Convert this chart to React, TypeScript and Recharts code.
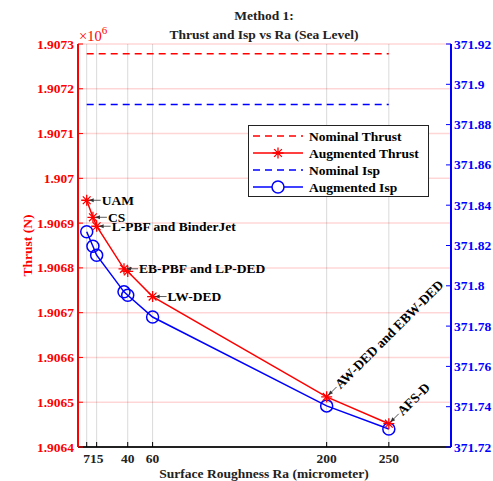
import React from 'react';
import { LineChart, Line, XAxis, YAxis, CartesianGrid, Legend, LabelList } from 'recharts';

const FONT = "'Liberation Serif', 'Times New Roman', serif";
const RED = '#ff0000';
const BLUE = '#0000ff';

// surface roughness Ra (micrometer) per process
const ra = [7, 12, 15, 37, 40, 60, 200, 250];
const processes = ['UAM', 'CS', 'L-PBF and BinderJet', 'EB-PBF and LP-DED', '', 'LW-DED', 'AW-DED and EBW-DED', 'AFS-D'];
const labelAngle = [0, 0, 0, 0, 0, 0, -45, -45];

const augThrust = [1906951, 1906913, 1906893, 1906798, 1906792, 1906736, 1906512, 1906452];
const augIsp = [371.8268, 371.8196, 371.8152, 371.797, 371.7953, 371.7845, 371.7404, 371.7289];
const nominalThrust = 1907278;
const nominalIsp = 371.89;

const xTicks = [7, 15, 40, 60, 200, 250];
const thrustTicks = [1906400, 1906500, 1906600, 1906700, 1906800, 1906900, 1907000, 1907100, 1907200, 1907300];
const ispTicks = [371.72, 371.74, 371.76, 371.78, 371.8, 371.82, 371.84, 371.86, 371.88, 371.9, 371.92];

const data = ra.map((r, i) => ({
  ra: r,
  process: processes[i],
  thrust: augThrust[i],
  isp: augIsp[i],
  nomThrust: nominalThrust,
  nomIsp: nominalIsp,
}));

const starPath = (cx: number, cy: number, r: number) => {
  const d = r * 0.707;
  return `M${cx - r},${cy}H${cx + r}M${cx},${cy - r}V${cy + r}M${cx - d},${cy - d}L${cx + d},${cy + d}M${cx - d},${cy + d}L${cx + d},${cy - d}`;
};

const StarDot = (props: any) => {
  const { cx, cy, index } = props;
  return <path key={`s-${index}`} d={starPath(cx, cy, 5.5)} stroke={RED} strokeWidth={1.3} fill="none" />;
};

const CircleDot = (props: any) => {
  const { cx, cy, index } = props;
  return <circle key={`c-${index}`} cx={cx} cy={cy} r={6} stroke={BLUE} strokeWidth={1.5} fill="none" />;
};

const ProcessLabel = (props: any) => {
  const { index } = props;
  const x = props.viewBox?.x ?? props.x;
  const y = props.viewBox?.y ?? props.y;
  const text = processes[index];
  if (!text) return null;
  return (
    <g transform={`translate(${x},${y}) rotate(${labelAngle[index]})`}>
      <line x1={3} y1={0} x2={14} y2={0} stroke="#333" strokeWidth={0.8} />
      <path d="M2.5,0 L7,-2 L7,2 Z" fill="#333" />
      <text x={15} y={0} dy="0.34em" fontFamily={FONT} fontWeight="bold" fontSize={13.5} fill="#000">
        {text}
      </text>
    </g>
  );
};

const XTick = (props: any) => {
  const { x, y, payload } = props;
  return (
    <g>
      <line x1={x} y1={y} x2={x} y2={y - 5} stroke="#000" strokeWidth={1} />
      <text x={x} y={y + 16} textAnchor="middle" fontFamily={FONT} fontWeight="bold" fontSize={13.5} fill="#222">
        {payload.value}
      </text>
    </g>
  );
};

const LeftTick = (props: any) => {
  const { x, y, payload } = props;
  return (
    <g>
      <line x1={x} y1={y} x2={x + 5} y2={y} stroke={RED} strokeWidth={1} />
      <text x={x - 4} y={y} dy="0.34em" textAnchor="end" fontFamily={FONT} fontWeight="bold" fontSize={13.5} fill={RED}>
        {String(parseFloat((payload.value / 1e6).toFixed(4)))}
      </text>
    </g>
  );
};

const RightTick = (props: any) => {
  const { x, y, payload } = props;
  return (
    <g>
      <line x1={x} y1={y} x2={x - 5} y2={y} stroke={BLUE} strokeWidth={1} />
      <text x={x + 3} y={y} dy="0.34em" textAnchor="start" fontFamily={FONT} fontWeight="bold" fontSize={13.5} fill={BLUE}>
        {String(parseFloat(payload.value.toFixed(2)))}
      </text>
    </g>
  );
};

const legendRows = [
  { name: 'Nominal Thrust', color: RED, dashed: true, marker: 'none' },
  { name: 'Augmented Thrust', color: RED, dashed: false, marker: 'star' },
  { name: 'Nominal Isp', color: BLUE, dashed: true, marker: 'none' },
  { name: 'Augmented Isp', color: BLUE, dashed: false, marker: 'circle' },
];

const LegendBox = () => (
  <svg width={181} height={72} style={{ display: 'block' }}>
    <rect x={0.5} y={0.5} width={180} height={71} fill="#fff" stroke="#222" strokeWidth={1} />
    {legendRows.map((row, i) => {
      const cy = 11 + i * 17;
      return (
        <g key={row.name}>
          <line x1={5} y1={cy} x2={55} y2={cy} stroke={row.color} strokeWidth={1.5} strokeDasharray={row.dashed ? '7 5' : undefined} />
          {row.marker === 'star' && <path d={starPath(30, cy, 5.5)} stroke={RED} strokeWidth={1.3} fill="none" />}
          {row.marker === 'circle' && <circle cx={30} cy={cy} r={6} stroke={BLUE} strokeWidth={1.5} fill="#fff" />}
          <text x={61} y={cy} dy="0.34em" fontFamily={FONT} fontWeight="bold" fontSize={13.5} fill="#000">
            {row.name}
          </text>
        </g>
      );
    })}
  </svg>
);

export default function App() {
  return (
    <div style={{ position: 'absolute', left: 0, top: 0, width: 493, height: 481, background: '#fff' }}>
      <LineChart width={493} height={481} data={data} margin={{ top: 44, right: 0, bottom: 0, left: 0 }}>
        <CartesianGrid yAxisId="left" vertical={false} stroke={RED} strokeOpacity={0.16} strokeWidth={1.5} />
        <CartesianGrid yAxisId="left" horizontal={false} stroke="#000" strokeOpacity={0.15} strokeWidth={1} />
        <XAxis
          dataKey="ra"
          type="number"
          domain={[0, 300]}
          ticks={xTicks}
          interval={0}
          height={34}
          tickSize={0}
          tickMargin={0}
          tick={<XTick />}
          axisLine={{ stroke: '#222', strokeWidth: 2 }}
          tickLine={false}
        />
        <YAxis
          yAxisId="left"
          domain={[1906400, 1907300]}
          ticks={thrustTicks}
          interval={0}
          width={78}
          tickSize={0}
          tickMargin={0}
          tick={<LeftTick />}
          axisLine={{ stroke: RED, strokeWidth: 2 }}
          tickLine={false}
          allowDataOverflow
        />
        <YAxis
          yAxisId="right"
          orientation="right"
          domain={[371.72, 371.92]}
          ticks={ispTicks}
          interval={0}
          width={42}
          tickSize={0}
          tickMargin={0}
          tick={<RightTick />}
          axisLine={{ stroke: BLUE, strokeWidth: 2 }}
          tickLine={false}
          allowDataOverflow
        />
        <Line yAxisId="left" dataKey="nomThrust" stroke={RED} strokeWidth={1.5} strokeDasharray="7 5" dot={false} activeDot={false} isAnimationActive={false} />
        <Line yAxisId="right" dataKey="nomIsp" stroke={BLUE} strokeWidth={1.5} strokeDasharray="7 5" dot={false} activeDot={false} isAnimationActive={false} />
        <Line yAxisId="right" dataKey="isp" stroke={BLUE} strokeWidth={1.5} dot={<CircleDot />} activeDot={false} isAnimationActive={false} />
        <Line yAxisId="left" dataKey="thrust" stroke={RED} strokeWidth={1.5} dot={<StarDot />} activeDot={false} isAnimationActive={false}>
          <LabelList dataKey="process" content={<ProcessLabel />} />
        </Line>
        <Legend
          layout="vertical"
          align="center"
          verticalAlign="middle"
          content={<LegendBox />}
          wrapperStyle={{ position: 'absolute', left: 248, top: 125, width: 181, height: 72 }}
        />
      </LineChart>
      <svg width={493} height={481} style={{ position: 'absolute', left: 0, top: 0, pointerEvents: 'none' }}>
        <text x={264} y={20} textAnchor="middle" fontFamily={FONT} fontWeight="bold" fontSize={13.5} fill="#222">
          Method 1:
        </text>
        <text x={264} y={38.5} textAnchor="middle" fontFamily={FONT} fontWeight="bold" fontSize={13.5} fill="#222">
          Thrust and Isp vs Ra (Sea Level)
        </text>
        <text x={79} y={41} fontFamily={FONT} fontSize={14.5} fill={RED}>
          ×10<tspan dy={-7} fontSize={11}>6</tspan>
        </text>
        <text x={32} y={245.5} transform="rotate(-90 32 245.5)" textAnchor="middle" fontFamily={FONT} fontWeight="bold" fontSize={13.5} fill={RED}>
          Thrust (N)
        </text>
        <text x={264} y={478} textAnchor="middle" fontFamily={FONT} fontWeight="bold" fontSize={13.5} fill="#222">
          Surface Roughness Ra (micrometer)
        </text>
      </svg>
    </div>
  );
}
